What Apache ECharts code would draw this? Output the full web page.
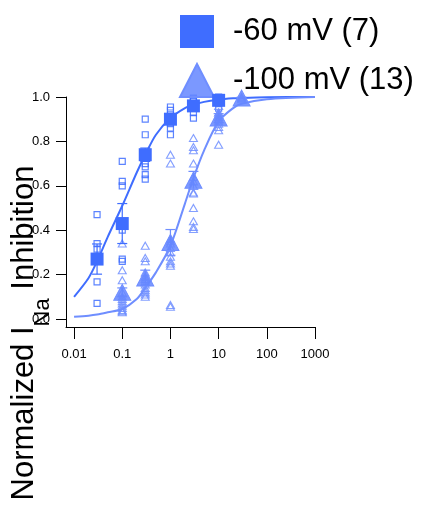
<!DOCTYPE html>
<html>
<head>
<meta charset="utf-8">
<script src="https://cdn.jsdelivr.net/npm/echarts@6/dist/echarts.min.js"></script>
<style>html,body{margin:0;padding:0;background:#fff}#c{width:422px;height:506px}</style>
</head>
<body>
<div id="c"></div>
<script>
// ---- data ----
const xTicks = [0.01, 0.1, 1, 10, 100, 1000];
const xTickLabels = ['0.01', '0.1', '1', '10', '100', '1000'];
const yTicks = [0, 0.2, 0.4, 0.6, 0.8, 1.0];
const yTickLabels = ['0.0', '0.2', '0.4', '0.6', '0.8', '1.0'];

const seriesNames = ['-60 mV (7)', '-100 mV (13)'];

// -60 mV: concentrations, means, SEM, individual cells
const conc60 = [0.03, 0.1, 0.3, 1, 3, 10];
const mean60 = [0.27, 0.43, 0.74, 0.90, 0.96, 0.985];
const sem60 = [0.068, 0.09, 0.03, 0.02, 0.01, 0.008];
const cells60 = [
  [0.47, 0.34, 0.315, 0.27, 0.26, 0.167, 0.07],
  [0.71, 0.62, 0.60, 0.43, 0.40, 0.27, 0.26],
  [0.90, 0.83, 0.74, 0.70, 0.685, 0.65, 0.63],
  [0.955, 0.94, 0.92, 0.90, 0.88, 0.86, 0.83],
  [0.995, 0.98, 0.96, 0.95, 0.93, 0.905, 0.99],
  [1.0, 0.99, 0.985, 0.98, 0.97, 0.95, 0.99]
];

// -100 mV
const conc100 = [0.1, 0.3, 1, 3, 10, 30];
const mean100 = [0.12, 0.185, 0.345, 0.625, 0.905, 0.995];
const sem100 = [0.02, 0.035, 0.058, 0.04, 0.02, 0.004];
const cells100 = [
  [0.34, 0.22, 0.175, 0.12, 0.10, 0.09, 0.08, 0.07, 0.06, 0.05, 0.04, 0.035, 0.03],
  [0.33, 0.275, 0.26, 0.21, 0.19, 0.18, 0.17, 0.155, 0.14, 0.13, 0.12, 0.11, 0.10],
  [0.74, 0.70, 0.36, 0.35, 0.34, 0.32, 0.30, 0.28, 0.26, 0.25, 0.24, 0.063, 0.055],
  [0.815, 0.775, 0.76, 0.70, 0.64, 0.62, 0.60, 0.57, 0.565, 0.50, 0.44, 0.415, 0.405],
  [0.99, 0.96, 0.93, 0.93, 0.92, 0.91, 0.90, 0.90, 0.89, 0.88, 0.865, 0.85, 0.785],
  [1.0, 0.995, 0.99]
];

// fitted curves
const curveX = [0.01, 0.02, 0.03, 0.05, 0.1, 0.2, 0.3, 0.5, 1, 2, 3, 5, 10, 20, 30, 100, 1000];
const curve60 = [0.10, 0.185, 0.26, 0.37, 0.51, 0.66, 0.74, 0.83, 0.905, 0.95, 0.965, 0.978, 0.988, 0.994, 0.996, 0.999, 1.0];
const curve100 = [0.01, 0.015, 0.02, 0.03, 0.045, 0.09, 0.14, 0.21, 0.33, 0.52, 0.635, 0.76, 0.89, 0.95, 0.97, 0.99, 1.0];

// ---- styling ----
const c60 = '#3f6dff';
const c60light = 'rgba(63,109,255,0.85)';
const c100 = '#6f8eff';
const c100light = 'rgba(111,142,255,0.85)';
const FONT = '"Liberation Sans", Arial, Helvetica, sans-serif';

function flatten(conc, cells) {
  const out = [];
  conc.forEach((c, i) => cells[i].forEach(v => out.push([c, v])));
  return out;
}
function errSeries(conc, mean, sem, color) {
  return {
    type: 'custom',
    silent: true,
    clip: false,
    z: 4,
    data: conc.map((c, i) => [c, mean[i], sem[i]]),
    encode: { x: 0, y: 1 },
    renderItem: function (params, api) {
      const x = api.value(0), m = api.value(1), e = api.value(2);
      const top = api.coord([x, m + e]);
      const bot = api.coord([x, m - e]);
      const h = 5;
      const st = { stroke: color, lineWidth: 1.2 };
      return {
        type: 'group',
        children: [
          { type: 'line', shape: { x1: top[0], y1: top[1], x2: bot[0], y2: bot[1] }, style: st },
          { type: 'line', shape: { x1: top[0] - h, y1: top[1], x2: top[0] + h, y2: top[1] }, style: st },
          { type: 'line', shape: { x1: bot[0] - h, y1: bot[1], x2: bot[0] + h, y2: bot[1] }, style: st }
        ]
      };
    }
  };
}

const chart = echarts.init(document.getElementById('c'), null, { renderer: 'canvas' });
chart.setOption({
  animation: false,
  backgroundColor: '#fff',
  textStyle: { fontFamily: FONT },
  grid: { left: 66, right: 107, top: 97, bottom: 179, containLabel: false, outerBoundsMode: 'none' },
  legend: {
    orient: 'vertical',
    left: 179,
    top: 15,
    padding: 0,
    itemWidth: 34,
    itemHeight: 33,
    itemGap: 15,
    textStyle: { fontSize: 31, color: '#000', fontFamily: FONT, padding: [0, 0, 0, 14] },
    data: [
      { name: seriesNames[0], icon: 'rect' },
      { name: seriesNames[1], icon: 'triangle' }
    ]
  },
  xAxis: {
    type: 'log',
    logBase: 10,
    min: 0.0068,
    max: 1000,
    axisLine: { show: true, onZero: false, lineStyle: { color: '#000', width: 1 } },
    axisTick: { show: true, length: 12, customValues: xTicks, lineStyle: { color: '#000', width: 1 } },
    axisLabel: {
      customValues: xTicks,
      margin: 21,
      fontSize: 13,
      color: '#000',
      fontFamily: FONT,
      formatter: function (v) {
        for (let i = 0; i < xTicks.length; i++) {
          if (Math.abs(Math.log10(v) - Math.log10(xTicks[i])) < 1e-6) return xTickLabels[i];
        }
        return '';
      }
    },
    splitLine: { show: false },
    minorTick: { show: false }
  },
  yAxis: {
    type: 'value',
    min: -0.036,
    max: 1.0,
    axisLine: { show: true, onZero: false, lineStyle: { color: '#000', width: 1 } },
    axisTick: { show: true, length: 10, customValues: yTicks, lineStyle: { color: '#000', width: 1 } },
    axisLabel: {
      customValues: yTicks,
      margin: 16,
      fontSize: 13,
      color: '#000',
      fontFamily: FONT,
      formatter: function (v) {
        for (let i = 0; i < yTicks.length; i++) {
          if (Math.abs(v - yTicks[i]) < 1e-6) return yTickLabels[i];
        }
        return '';
      }
    },
    splitLine: { show: false }
  },
  graphic: [{
    type: 'text',
    x: 24,
    y: 333,
    rotation: Math.PI / 2,
    z: 100,
    style: {
      text: '{a|Normalized I}{s|Na}{a| Inhibition}',
      align: 'center',
      verticalAlign: 'middle',
      fill: '#000',
      rich: {
        a: { fontSize: 31, fontFamily: FONT, fill: '#000' },
        s: { fontSize: 22, fontFamily: FONT, fill: '#000', padding: [38, 0, 0, 0] }
      }
    }
  }],
  series: [
    {
      type: 'line', name: 'fit60', data: curveX.map((x, i) => [x, curve60[i]]),
      smooth: 0.3, showSymbol: false, silent: true, clip: true, z: 2,
      lineStyle: { color: c60, width: 2 }
    },
    {
      type: 'line', name: 'fit100', data: curveX.map((x, i) => [x, curve100[i]]),
      smooth: 0.3, showSymbol: false, silent: true, clip: true, z: 2,
      lineStyle: { color: c100, width: 2 }
    },
    {
      type: 'scatter', name: 'cells60', data: flatten(conc60, cells60),
      symbol: 'rect', symbolSize: 6, clip: false, silent: true, z: 3,
      itemStyle: { color: 'rgba(255,255,255,0)', borderColor: c60light, borderWidth: 1.2, opacity: 1 }
    },
    {
      type: 'scatter', name: 'cells100', data: flatten(conc100, cells100),
      symbol: 'triangle', symbolSize: [8, 7], clip: false, silent: true, z: 3,
      itemStyle: { color: 'rgba(255,255,255,0)', borderColor: c100light, borderWidth: 1.1, opacity: 1 }
    },
    errSeries(conc60, mean60, sem60, c60),
    errSeries(conc100, mean100, sem100, c100),
    {
      type: 'scatter', name: seriesNames[0], data: conc60.map((c, i) => [c, mean60[i]]),
      symbol: 'rect', symbolSize: 13, clip: false, z: 5,
      itemStyle: { color: c60, opacity: 1 }
    },
    {
      type: 'scatter', name: seriesNames[1], data: conc100.map((c, i) => [c, mean100[i]]),
      symbol: 'triangle', symbolSize: [17, 16], clip: false, z: 5,
      itemStyle: { color: 'rgba(100,134,255,0.85)', borderColor: c100, borderWidth: 1, opacity: 1 }
    }
  ]
});
</script>
</body>
</html>
